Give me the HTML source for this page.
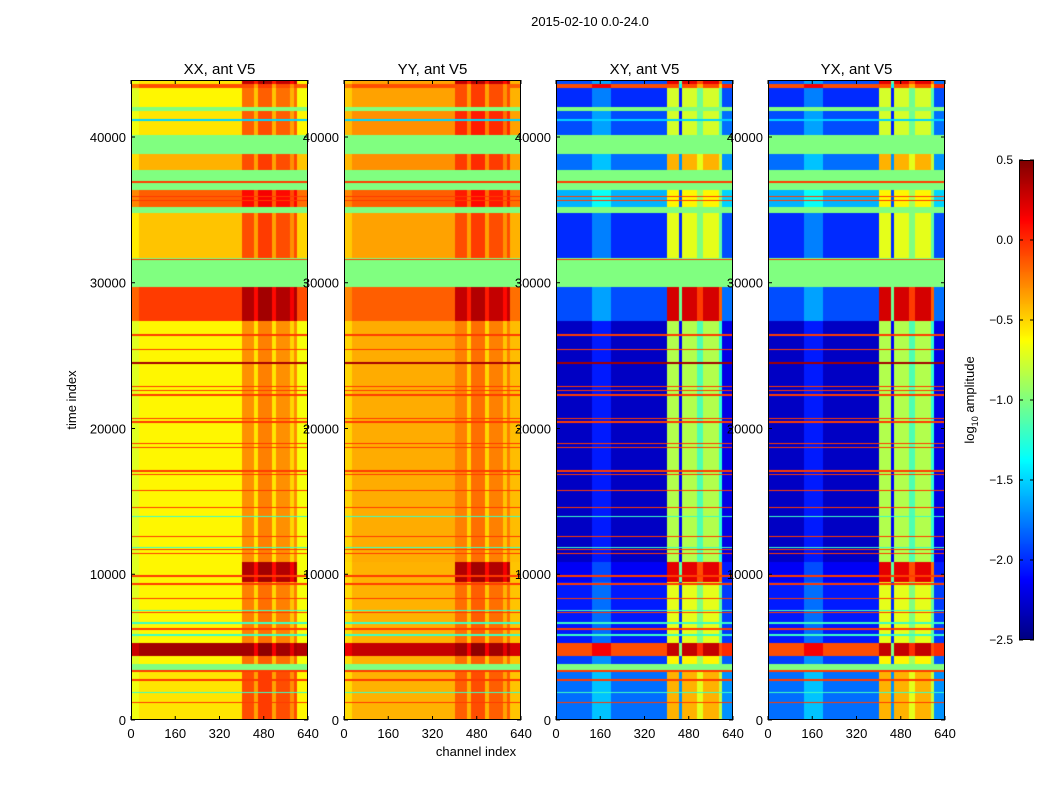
<!DOCTYPE html>
<html><head><meta charset="utf-8">
<style>
body{margin:0;background:#fff;width:1050px;height:800px;overflow:hidden;position:relative;font-family:"Liberation Sans",sans-serif}
canvas{position:absolute}
svg{position:absolute;left:0;top:0}
</style></head><body>
<canvas id="p0" width="177" height="640" style="left:131px;top:80px"></canvas>
<canvas id="p1" width="177" height="640" style="left:344px;top:80px"></canvas>
<canvas id="p2" width="177" height="640" style="left:556px;top:80px"></canvas>
<canvas id="p3" width="177" height="640" style="left:768px;top:80px"></canvas>
<canvas id="cb" width="15" height="480" style="left:1019px;top:160px"></canvas>
<svg id="ov" width="1050" height="800"></svg>
<script>
// ---- data ----
const bandStart = [0,3440,3860,4420,5260,9460,10860,27380,29680,31720,34800,35220,36340,37740,38860,40120,41800,42080,43340,43620];
const bandEnd   = [3440,3860,4420,5260,9460,10860,27380,29680,31720,34800,35220,36340,37740,38860,40120,41800,42080,43340,43620,43910];
const bandFlag  = [0,1,0,0,0,0,0,0,1,0,1,0,1,0,1,0,1,0,0,0];
const xxLow  = [-0.55,-1,-0.6,0.4,-0.6,-0.6,-0.6,-0.05,-1,-0.45,-1,-0.15,-1,-0.4,-1,-0.55,-1,-0.6,-0.1,-0.55];
const xxHigh = [-0.1,-1,-0.2,0.4,-0.25,0.35,-0.3,0.35,-1,-0.1,-1,0.1,-1,-0.1,-1,-0.15,-1,-0.2,-0.1,0.3];
const yyLow  = [-0.4,-1,-0.4,0.3,-0.4,-0.4,-0.38,-0.15,-1,-0.35,-1,-0.15,-1,-0.3,-1,-0.3,-1,-0.35,-0.1,-0.35];
const yyHigh = [-0.15,-1,-0.2,0.4,-0.2,0.35,-0.25,0.3,-1,-0.1,-1,0.05,-1,-0.05,-1,0,-1,-0.1,-0.1,0.3];
const xyLow  = [-1.8,-1,-1.95,-0.1,-2.05,-2.15,-2.3,-1.9,-1,-2.0,-1,-1.6,-1,-1.8,-1,-1.9,-1,-2.0,-0.1,-1.9];
const xyHigh = [-0.4,-1,-0.6,0.3,-0.7,0.2,-0.85,0.25,-1,-0.7,-1,-0.6,-1,-0.4,-1,-0.75,-1,-0.75,-0.1,0.2];
const yxLow  = [-1.8,-1,-1.95,-0.1,-2.05,-2.15,-2.3,-1.9,-1,-2.0,-1,-1.6,-1,-1.8,-1,-1.9,-1,-2.0,-0.1,-1.9];
const yxHigh = [-0.4,-1,-0.6,0.3,-0.7,0.2,-0.85,0.25,-1,-0.7,-1,-0.6,-1,-0.4,-1,-0.75,-1,-0.75,-0.1,0.2];
const lineTimes = [26404,25424,24500,22904,22624,22288,20664,20440,18984,18704,17080,16828,15764,14588,12600,11704,11424,9884,9324,8344,7364,6244,3360,2744,1204,36904,35924,35644,31584,13944,11844,7504,6664,5824,1904,41160];
const lineVals  = [-0.05,-0.05,0.4,-0.05,-0.05,-0.05,-0.05,-0.05,-0.05,-0.05,-0.05,-0.05,-0.05,-0.05,-0.05,-0.05,-0.05,-0.05,-0.05,-0.05,-0.05,-0.05,-0.05,-0.05,-0.05,-0.05,-0.05,-0.05,-0.05,-1.2,-1.2,-1.2,-1.2,-1.2,-1.2,-1.5];
const autoChanEdges = [0,30,400,445,460,510,525,575,590,600,640];
const autoChanRole  = ['L','L','H','H','H','H','H','H','H','L'];
const autoChanOff   = [-0.12,0,0,-0.25,0.05,-0.25,0,-0.2,0,-0.05];
const crossChanEdges = [0,130,200,400,445,455,510,530,590,600,640];
const crossChanRole  = ['L','L','L','H','H','H','H','H','H','L'];
const crossChanOff   = [0,0.25,0,0,-1.3,0,-0.3,0,-0.4,0.1];
const cbTicks = [0.5,0.0,-0.5,-1.0,-1.5,-2.0,-2.5];
const xTicks = [0,160,320,480,640];
const yTicks = [0,10000,20000,30000,40000];
const titles = ['XX, ant V5','YY, ant V5','XY, ant V5','YX, ant V5'];
// ---- scales ----
const TMAX=43910, VMIN=-2.5, VMAX=0.5, PX=[131,344,556,768], PW=177, PT=80, PH=640;
const yS=t=>PT+PH-t*PH/TMAX, xS=(i,c)=>PX[i]+c*PW/640;
function jet(v){let x=(v-VMIN)/(VMAX-VMIN);x=Math.max(0,Math.min(1,x));
 const f=(a)=>Math.max(0,Math.min(1,a));
 return [f(1.5-Math.abs(4*x-3)),f(1.5-Math.abs(4*x-2)),f(1.5-Math.abs(4*x-1))].map(q=>Math.round(q*255));}
const panels=[[xxLow,xxHigh,0],[yyLow,yyHigh,0],[xyLow,xyHigh,1],[yxLow,yxHigh,1]];
panels.forEach((p,i)=>{
 const cv=document.getElementById('p'+i),ctx=cv.getContext('2d'),img=ctx.createImageData(PW,PH);
 const E=p[2]?crossChanEdges:autoChanEdges,R=p[2]?crossChanRole:autoChanRole,O=p[2]?crossChanOff:autoChanOff;
 for(let r=0;r<PH;r++){
  const t=(PH-r-0.5)*TMAX/PH;
  let b=0;for(let k=0;k<bandStart.length;k++)if(t>=bandStart[k]&&t<bandEnd[k])b=k;
  let lv=null;for(let k=0;k<lineTimes.length;k++)if(Math.abs(t-lineTimes[k])<45)lv=lineVals[k];
  for(let col=0;col<PW;col++){
   const c=(col+0.5)*640/PW;let s=0;for(let k=0;k<E.length-1;k++)if(c>=E[k]&&c<E[k+1])s=k;
   let v;
   if(lv!==null)v=lv;
   else if(bandFlag[b])v=-1.0;
   else v=(R[s]==='L'?p[0][b]:p[1][b])+O[s];
   const rgb=jet(v),idx=(r*PW+col)*4;
   img.data[idx]=rgb[0];img.data[idx+1]=rgb[1];img.data[idx+2]=rgb[2];img.data[idx+3]=255;
  }}
 ctx.putImageData(img,0,0);
});
{const cv=document.getElementById('cb'),ctx=cv.getContext('2d');
 for(let r=0;r<480;r++){const v=VMAX-(r+0.5)*(VMAX-VMIN)/480;const c=jet(v);ctx.fillStyle=`rgb(${c[0]},${c[1]},${c[2]})`;ctx.fillRect(0,r,15,1);}}
// ---- overlay ----
const ov=document.getElementById('ov'),NS='http://www.w3.org/2000/svg';
function mk(tag,attrs,txt){const e=document.createElementNS(NS,tag);for(const k in attrs)e.setAttribute(k,attrs[k]);if(txt!==undefined)e.textContent=txt;ov.appendChild(e);return e;}
for(let i=0;i<4;i++){
 const fr=mk('rect',{x:PX[i]+0.5,y:PT+0.5,width:PW-1,height:PH-1,fill:'none',stroke:'#000'});
 
 
 const ti=mk('text',{x:PX[i]+PW/2,y:74,'text-anchor':'middle','font-size':15},titles[i]);
 
 
 xTicks.forEach(v=>{const x=xS(i,v);
  mk('line',{x1:x,x2:x,y1:PT,y2:PT+4,stroke:'#000'});mk('line',{x1:x,x2:x,y1:PT+PH,y2:PT+PH-4,stroke:'#000'});
  const l=mk('text',{x:x,y:738,'text-anchor':'middle','font-size':13},String(v));
  
  });
 yTicks.forEach(v=>{const y=yS(v);
  mk('line',{x1:PX[i],x2:PX[i]+4,y1:y,y2:y,stroke:'#000'});mk('line',{x1:PX[i]+PW,x2:PX[i]+PW-4,y1:y,y2:y,stroke:'#000'});
  const l=mk('text',{x:PX[i]-5,y:y+5,'text-anchor':'end','font-size':13},String(v));
  
  });
}
const st=mk('text',{x:590,y:26,'text-anchor':'middle','font-size':13},'2015-02-10 0.0-24.0');


const yl=mk('text',{x:0,y:0,'text-anchor':'middle','font-size':13,transform:'translate(76,400) rotate(-90)'},'time index');


const xl=mk('text',{x:476,y:756,'text-anchor':'middle','font-size':13},'channel index');


const cbf=mk('rect',{x:1019.5,y:160.5,width:14,height:479,fill:'none',stroke:'#000'});


cbTicks.forEach(v=>{const y=160+(VMAX-v)*480/(VMAX-VMIN);
 mk('line',{x1:1019,x2:1023,y1:y,y2:y,stroke:'#000'});mk('line',{x1:1034,x2:1030,y1:y,y2:y,stroke:'#000'});
 const l=mk('text',{x:1013,y:y+4,'font-size':12,'text-anchor':'end'},v.toFixed(1).replace('-','\u2212'));
 
 });
const cl=mk('text',{x:0,y:0,'text-anchor':'middle','font-size':13,transform:'translate(974,400) rotate(-90)'});


cl.innerHTML='log<tspan font-size="9" dy="4">10</tspan><tspan dy="-4"> amplitude</tspan>';
</script>
</body></html>
